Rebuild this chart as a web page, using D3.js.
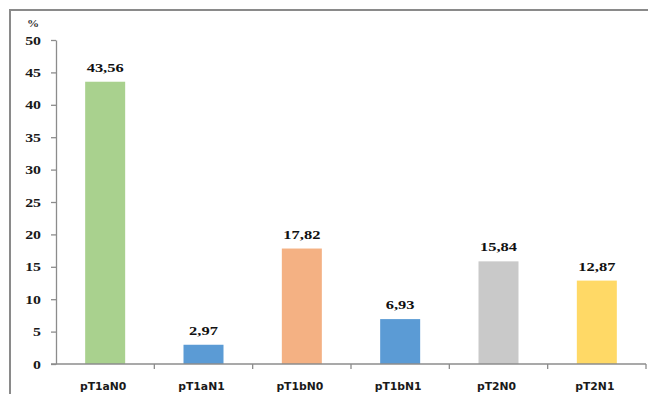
<!DOCTYPE html>
<html><head><meta charset="utf-8">
<script src="https://cdn.jsdelivr.net/npm/d3@7"></script>
<style>html,body{margin:0;padding:0;background:#fff;}svg{display:block;}</style>
</head><body>
<script>
const categories = ["pT1aN0","pT1aN1","pT1bN0","pT1bN1","pT2N0","pT2N1"];
const values = [43.56, 2.97, 17.82, 6.93, 15.84, 12.87];
const valueLabels = ["43,56","2,97","17,82","6,93","15,84","12,87"];
const colors = ["#A9D18E","#5B9BD5","#F4B183","#5B9BD5","#C9C9C9","#FFD966"];
const yTicks = [0,5,10,15,20,25,30,35,40,45,50];
const unitLabel = "%";

const W = 648, H = 394;
const svg = d3.select("body").append("svg").attr("width", W).attr("height", H);

// frame
svg.append("path").attr("d", `M10,${H} V10 H${W}`).attr("fill","none")
  .attr("stroke","#8a8a8a").attr("stroke-width",2);

const x0 = 56, x1 = 646, yTop = 40, yBot = 364;
const x = d3.scaleBand().domain(categories).range([x0, x1]).paddingInner(0).paddingOuter(0);
const y = d3.scaleLinear().domain([0, 50]).range([yBot, yTop]);
const barW = 40;
const sx = 1.22;

// bars
svg.selectAll("rect.bar").data(categories).enter().append("rect")
  .attr("x", (d) => x(d) + x.bandwidth()/2 - barW/2)
  .attr("y", (d,i) => y(values[i]))
  .attr("width", barW)
  .attr("height", (d,i) => y(0) - y(values[i]))
  .attr("fill", (d,i) => colors[i]);

// y axis
const yAxis = svg.append("g").attr("transform", `translate(${x0},0)`)
  .call(d3.axisLeft(y).tickValues(yTicks).tickSize(5).tickSizeOuter(0).tickFormat(""));
yAxis.select(".domain").attr("stroke","#8c8c8c").attr("stroke-width",1.3);
yAxis.selectAll(".tick line").attr("stroke","#8c8c8c").attr("stroke-width",1.3);

svg.selectAll("text.ytick").data(yTicks).enter().append("text")
  .attr("transform", (d) => `translate(41,${y(d)+4.5}) scale(${sx},1)`)
  .attr("text-anchor","end")
  .attr("font-family","'Liberation Serif', 'Times New Roman', serif")
  .attr("font-weight","bold").attr("font-size","13px").attr("fill","#1a1a1a")
  .text((d) => d);

svg.append("text").attr("transform", `translate(33,27) scale(1.1,1)`)
  .attr("text-anchor","middle")
  .attr("font-family","'Liberation Serif', serif").attr("font-weight","bold")
  .attr("font-size","11px").attr("fill","#333").text(unitLabel);

// x axis
const xAxisG = svg.append("g");
xAxisG.append("line").attr("x1", 51).attr("x2", x1).attr("y1", yBot).attr("y2", yBot)
  .attr("stroke","#8c8c8c").attr("stroke-width",1.3);
xAxisG.selectAll("line.tk").data(categories).enter().append("line")
  .attr("x1", (d) => x(d) + x.bandwidth()).attr("x2", (d) => x(d) + x.bandwidth())
  .attr("y1", yBot).attr("y2", yBot + 5)
  .attr("stroke","#8c8c8c").attr("stroke-width",1.3);

svg.selectAll("text.cat").data(categories).enter().append("text")
  .attr("x", (d) => x(d) + x.bandwidth()/2 - 2)
  .attr("y", 390)
  .attr("text-anchor","middle")
  .attr("font-family","'DejaVu Sans', Verdana, sans-serif")
  .attr("font-weight","bold").attr("font-size","10.8px").attr("fill","#1a1a1a")
  .text((d) => d);

// value labels
svg.selectAll("text.val").data(categories).enter().append("text")
  .attr("transform", (d,i) => `translate(${x(d) + x.bandwidth()/2},${y(values[i]) - 10}) scale(${sx},1)`)
  .attr("text-anchor","middle")
  .attr("font-family","'Liberation Serif', 'Times New Roman', serif")
  .attr("font-weight","bold").attr("font-size","13.5px").attr("fill","#111")
  .text((d,i) => valueLabels[i]);
</script>
</body></html>
